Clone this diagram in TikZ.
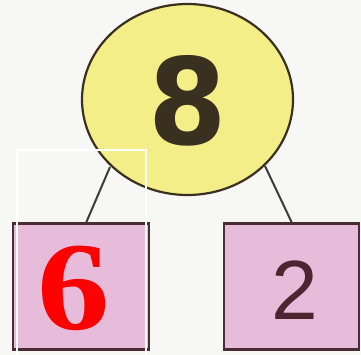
\documentclass[tikz,border=0pt]{standalone}
\usepackage{fontspec}
\usetikzlibrary{shapes.geometric}
\newfontfamily\eightfont{DejaVu Sans Bold}
\newfontfamily\sixfont{Liberation Serif Bold}
\newfontfamily\sansreg{Liberation Sans}
\definecolor{bgc}{HTML}{F7F7F5}
\definecolor{yel}{HTML}{F4EE88}
\definecolor{pinkc}{HTML}{E6BCDA}
\definecolor{edgec}{HTML}{4A2C34}
\definecolor{eightc}{HTML}{3A3020}
\definecolor{twoc}{HTML}{4E2430}
\definecolor{linec}{HTML}{3C3C3C}
\begin{document}
\begin{tikzpicture}[x=1pt,y=-1pt,
  partbox/.style={draw=edgec,line width=2.5pt,fill=pinkc,minimum width=136pt,minimum height=126pt,inner sep=0pt},
  link/.style={draw=linec,line width=2pt}]
\fill[bgc] (0,0) rectangle (361,355);
\useasboundingbox (0,0) rectangle (361,355);
\coordinate (la) at (110,167);
\coordinate (lb) at (86,223);
\coordinate (ra) at (265,166);
\coordinate (rb) at (292,223);
\draw[link] (la) -- (lb);
\draw[link] (ra) -- (rb);
\node[ellipse,draw=eightc,line width=2.2pt,fill=yel,minimum width=211pt,minimum height=191pt,inner sep=0pt] (whole) at (187.5,99.5) {};
\node[text=eightc,inner sep=0pt,xscale=0.94] (eight) at (187.5,101) {\eightfont\fontsize{120}{120}\selectfont 8};
\node[partbox] (left) at (81,286.5) {};
\node[partbox,minimum width=135pt] (right) at (291.5,286.5) {};
\node[text=red,inner sep=0pt,xscale=1.15] (six) at (74,288) {\sixfont\fontsize{126}{126}\selectfont 6};
\node[text=twoc,inner sep=0pt] (two) at (295,290) {\sansreg\fontsize{84}{84}\selectfont 2};
\draw[white,line width=2pt] (17,360) -- (17,150) -- (146,150) -- (146,360);
\end{tikzpicture}
\end{document}
